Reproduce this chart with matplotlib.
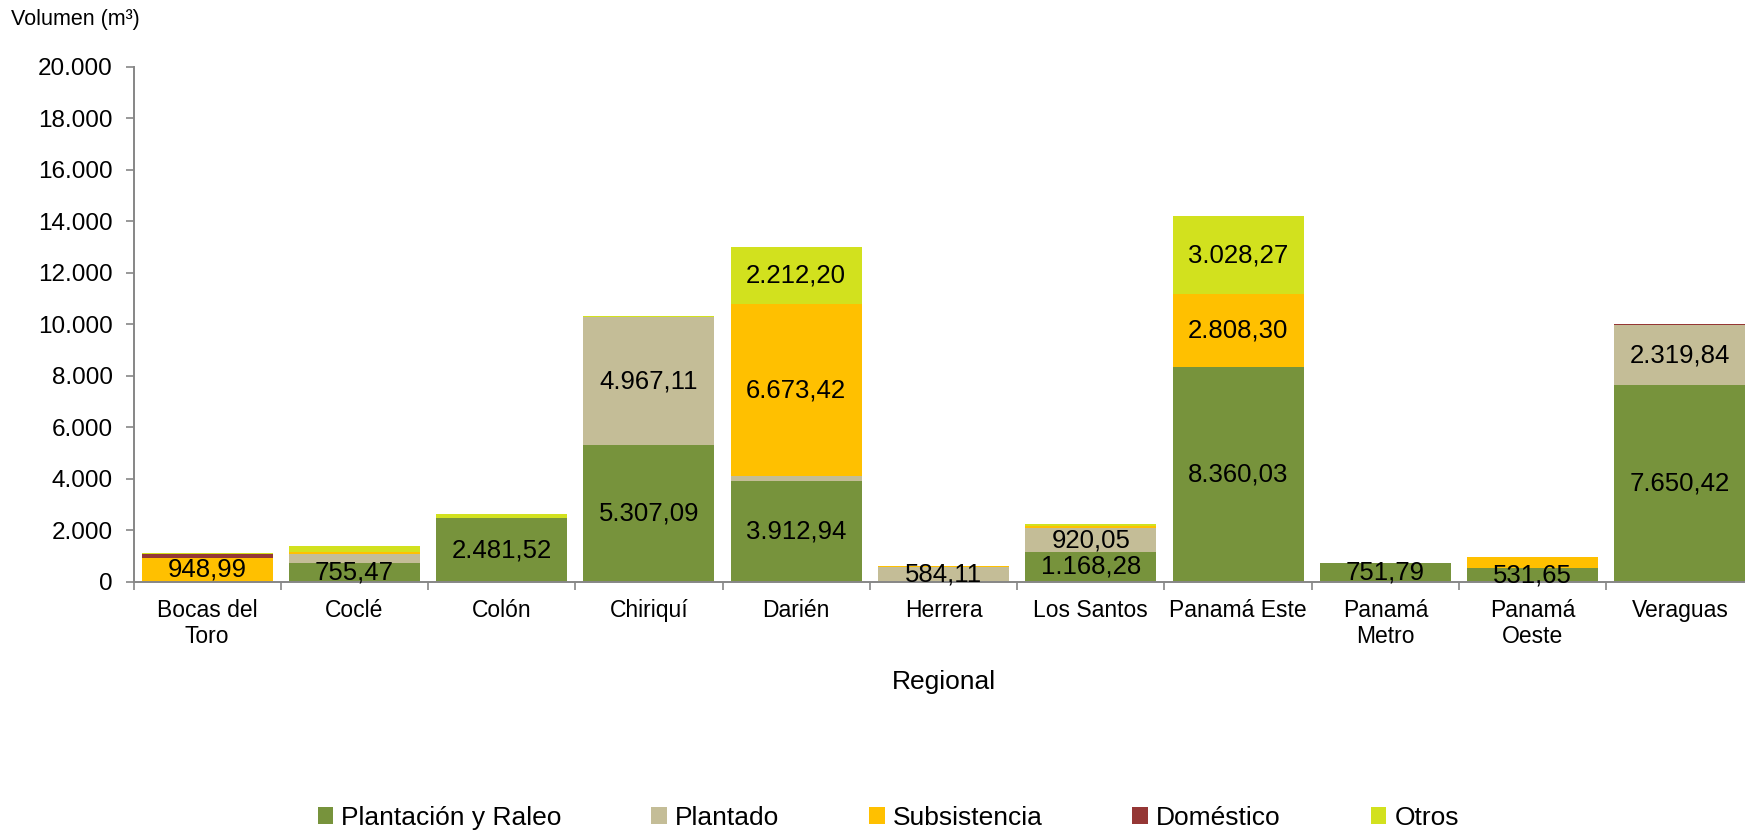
import matplotlib
matplotlib.use("Agg")
import matplotlib.pyplot as plt
import numpy as np

plt.rcParams['font.family'] = ['Liberation Sans', 'DejaVu Sans']

categories = ["Bocas del\nToro", "Coclé", "Colón", "Chiriquí", "Darién", "Herrera",
              "Los Santos", "Panamá Este", "Panamá\nMetro", "Panamá\nOeste", "Veraguas"]
series_names = ["Plantación y Raleo", "Plantado", "Subsistencia", "Doméstico", "Otros"]
plantacion = [0, 755.47, 2481.52, 5307.09, 3912.94, 0, 1168.28, 8360.03, 751.79, 531.65, 7650.42]
plantado = [0, 325, 0, 4967.11, 200, 584.11, 920.05, 0, 0, 0, 2319.84]
subsistencia = [948.99, 65, 0, 0, 6673.42, 30, 80, 2808.30, 0, 420, 0]
domestico = [130, 0, 0, 0, 0, 0, 0, 0, 0, 0, 40]
otros = [30, 250, 140, 40, 2212.20, 0, 70, 3028.27, 0, 0, 0]
colors = ["#77933C", "#C4BD97", "#FFC000", "#953735", "#D2E11E"]
yticks = [0, 2000, 4000, 6000, 8000, 10000, 12000, 14000, 16000, 18000, 20000]


def fmt(v, dec=2):
    s = f"{v:,.{dec}f}"
    return s.replace(",", "X").replace(".", ",").replace("X", ".")


fig = plt.figure(figsize=(17.45, 8.32), dpi=100)
ax = fig.add_axes([133.5 / 1745, 0.3005, 1620 / 1745, 0.619])

x = np.arange(len(categories))
bottom = np.zeros(len(categories))
all_series = [plantacion, plantado, subsistencia, domestico, otros]
for name, vals, col in zip(series_names, all_series, colors):
    vals = np.array(vals, dtype=float)
    ax.bar(x, vals, width=0.89, bottom=bottom, color=col, label=name, linewidth=0)
    for xi, v, b in zip(x, vals, bottom):
        if v > 500:
            ax.text(xi, b + v / 2, fmt(v), ha="center", va="center", fontsize=18.5, color="black")
    bottom += vals

ax.set_xlim(-0.5, len(categories) - 0.5)
ax.set_ylim(0, 20000)
ax.set_yticks(yticks)
ax.set_yticklabels([fmt(t, 0) for t in yticks], fontsize=17.5)
ax.set_xticks(x)
ax.set_xticklabels(categories, fontsize=16.5)
ax.set_xticks(np.arange(-0.5, len(categories), 1), minor=True)
ax.tick_params(axis="x", which="major", length=0, pad=12)
ax.tick_params(axis="x", which="minor", length=6, color="#868686", width=1.2, direction="out")
ax.tick_params(axis="y", length=6, color="#868686", width=1.2, direction="out", pad=9)
for s in ["top", "right"]:
    ax.spines[s].set_visible(False)
for s in ["left", "bottom"]:
    ax.spines[s].set_color("#868686")
    ax.spines[s].set_linewidth(1.4)

ax.set_xlabel("Regional", fontsize=19, labelpad=16)
fig.text(11 / 1745, 1 - 20 / 832, "Volumen (m³)", fontsize=15.5, va="center", ha="left")

handles, labels = ax.get_legend_handles_labels()
fig.legend(handles, labels, loc="center", bbox_to_anchor=(0.509, 1 - 818 / 832), ncol=5,
           frameon=False, fontsize=19, handlelength=0.6, handleheight=0.6,
           handletextpad=0.3, columnspacing=3.4)

fig.savefig("out.png", dpi=100)
